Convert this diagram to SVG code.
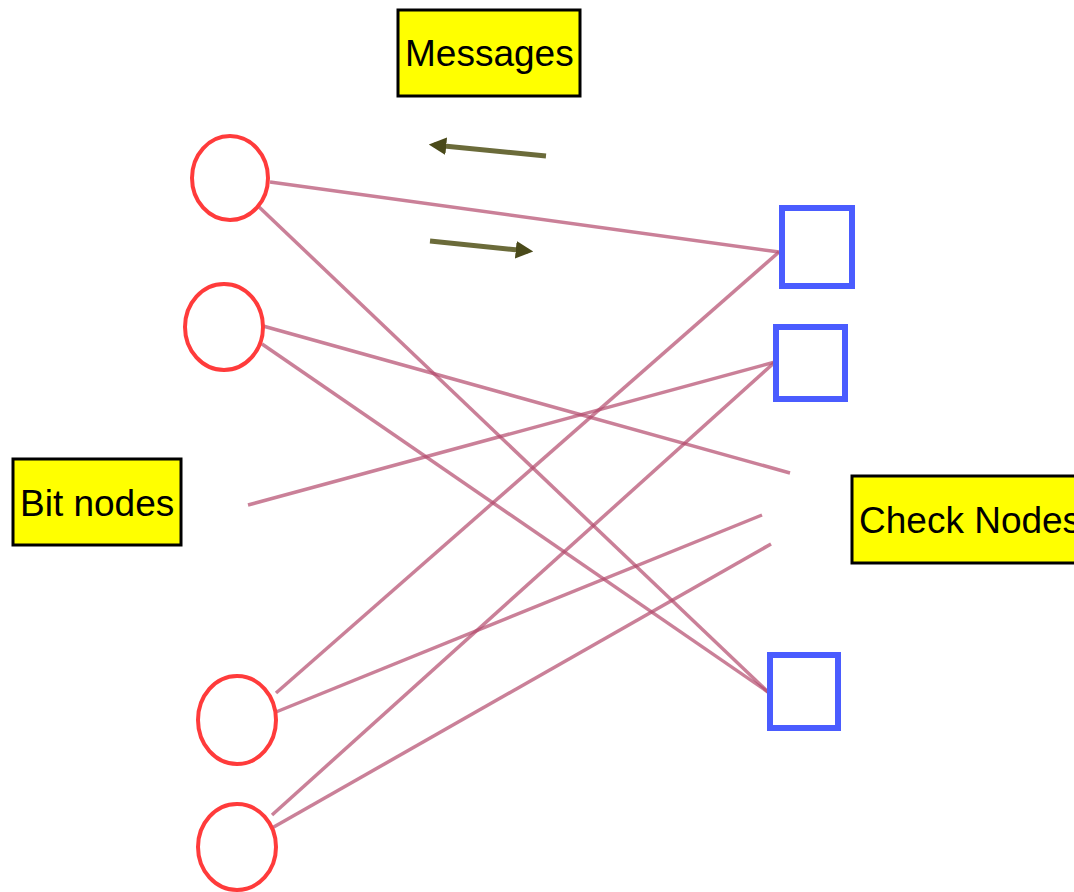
<svg xmlns="http://www.w3.org/2000/svg" width="1074" height="892" viewBox="0 0 1074 892">
<defs>
<marker id="ah" viewBox="0 0 10 10" refX="7" refY="5" markerWidth="3.5" markerHeight="3.5" orient="auto" markerUnits="strokeWidth">
<path d="M0,0 L10,5 L0,10 z" fill="#4a4a1a"/>
</marker>
<style>
.lbl rect{fill:#ffff00;stroke:#000;stroke-width:3}
.lbl text{font-family:"Liberation Sans",Arial,sans-serif;font-size:37px;fill:#000}
.bit{fill:none;stroke:#ff3b3b;stroke-width:4}
.chk{fill:none;stroke:#4a5cff;stroke-width:6}
.edge{stroke:#b34a6c;stroke-width:3.5;stroke-opacity:0.7;fill:none}
.msg{stroke:#6b6b3a;stroke-width:5;fill:none}
</style>
</defs>
<rect width="1074" height="892" fill="#fff"/>
<g id="connectors">
<line class="edge" x1="270" y1="182" x2="779" y2="252"/>
<line class="edge" x1="258" y1="206" x2="768" y2="692"/>
<line class="edge" x1="263" y1="326" x2="790" y2="473"/>
<line class="edge" x1="262" y1="344" x2="768" y2="692"/>
<line class="edge" x1="248" y1="505" x2="775" y2="362"/>
<line class="edge" x1="276" y1="693" x2="779" y2="252"/>
<line class="edge" x1="276" y1="712" x2="762" y2="515"/>
<line class="edge" x1="272" y1="815" x2="775" y2="362"/>
<line class="edge" x1="272" y1="828" x2="771" y2="544"/>
</g>
<g id="messages-arrows">
<line class="msg" x1="546" y1="156" x2="434" y2="145" marker-end="url(#ah)"/>
<line class="msg" x1="430" y1="241" x2="528" y2="251" marker-end="url(#ah)"/>
</g>
<g id="bit1"><ellipse class="bit" cx="230" cy="178" rx="38" ry="42"/></g>
<g id="bit2"><ellipse class="bit" cx="224" cy="327" rx="39" ry="43"/></g>
<g id="bit3"><ellipse class="bit" cx="237" cy="720" rx="39" ry="44"/></g>
<g id="bit4"><ellipse class="bit" cx="237" cy="847" rx="39" ry="43"/></g>
<g id="check1"><rect class="chk" x="782" y="208" width="70" height="78"/></g>
<g id="check2"><rect class="chk" x="776" y="327" width="69" height="72"/></g>
<g id="check3"><rect class="chk" x="770" y="655" width="68" height="73"/></g>
<g id="label-messages" class="lbl"><rect x="398" y="10" width="182" height="86"/><text x="405" y="66">Messages</text></g>
<g id="label-bit" class="lbl"><rect x="13" y="459" width="168" height="86"/><text x="20" y="516">Bit nodes</text></g>
<g id="label-check" class="lbl"><rect x="852" y="476" width="260" height="87"/><text x="859" y="533">Check Nodes</text></g>
</svg>
